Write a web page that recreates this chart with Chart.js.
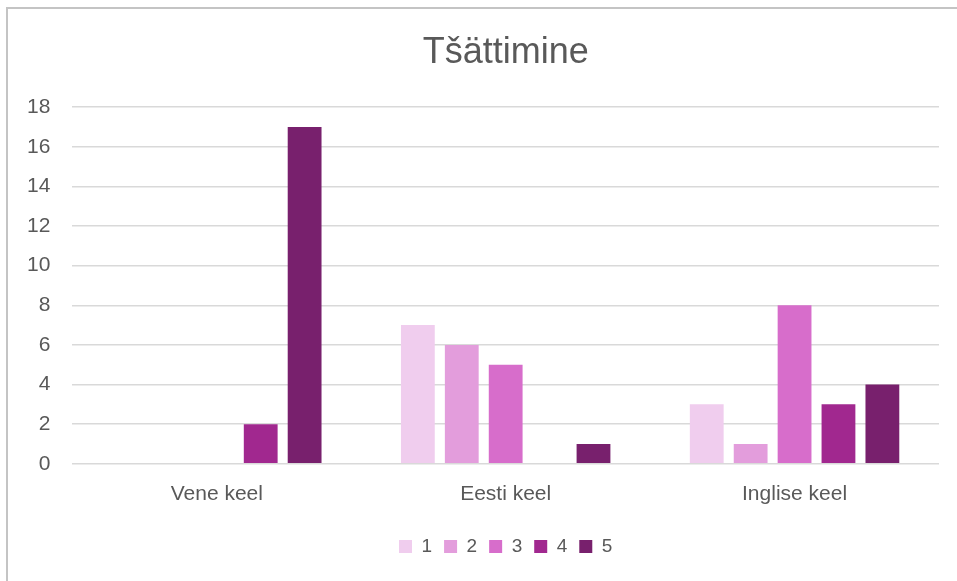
<!DOCTYPE html>
<html>
<head>
<meta charset="utf-8">
<script src="https://cdn.jsdelivr.net/npm/chart.js@4"></script>
<style>
    html, body { margin: 0; padding: 0; background: #fff; }
    #frame {
        position: absolute; left: 6px; top: 7px; width: 951px; height: 574px;
        border-left: 2px solid #c4c4c4; border-top: 2px solid #c4c4c4;
    }
    #wrap { position: absolute; left: 0; top: 0; width: 957px; height: 581px; }
</style>
</head>
<body>
<div id="frame"></div>
<div id="wrap"><canvas id="chart"></canvas></div>
<script>
// Andmed
const categories = ["Vene keel", "Eesti keel", "Inglise keel"];
const seriesNames = ["1", "2", "3", "4", "5"];
const series1 = [0, 7, 3];
const series2 = [0, 6, 1];
const series3 = [0, 5, 8];
const series4 = [2, 0, 3];
const series5 = [17, 1, 4];
const colors = ["#f0cdee", "#e39ddc", "#d76dcb", "#a1288f", "#78206d"];

const values = [series1, series2, series3, series4, series5];
const textColor = "#595959";
const fontFamily = "Liberation Sans, Arial";

new Chart(document.getElementById("chart"), {
    type: "bar",
    data: {
        labels: categories,
        datasets: values.map((v, i) => ({
            label: seriesNames[i],
            data: v,
            backgroundColor: colors[i],
            categoryPercentage: 0.76,
            barPercentage: 0.77
        }))
    },
    options: {
        responsive: true,
        maintainAspectRatio: false,
        animation: false,
        layout: { padding: { left: 5, right: 18, top: 0, bottom: 15 } },
        plugins: {
            title: {
                display: true,
                fullSize: false,
                text: "Tšättimine",
                color: textColor,
                font: { family: fontFamily, size: 36, weight: "normal" },
                padding: { top: 31, bottom: 33 }
            },
            legend: {
                position: "bottom",
                fullSize: false,
                labels: {
                    color: textColor,
                    font: { family: fontFamily, size: 19 },
                    boxWidth: 13,
                    boxHeight: 13,
                    padding: 12
                }
            },
            tooltip: { enabled: false }
        },
        scales: {
            x: {
                grid: { display: false, drawTicks: false },
                border: { display: false },
                ticks: {
                    color: textColor,
                    font: { family: fontFamily, size: 21 },
                    padding: 18
                }
            },
            y: {
                min: 0,
                max: 18,
                grid: { color: "#d9d9d9", lineWidth: 1.5, drawTicks: false },
                border: { display: false },
                ticks: {
                    stepSize: 2,
                    color: textColor,
                    font: { family: fontFamily, size: 21 },
                    padding: 22
                }
            }
        }
    }
});
</script>
</body>
</html>
